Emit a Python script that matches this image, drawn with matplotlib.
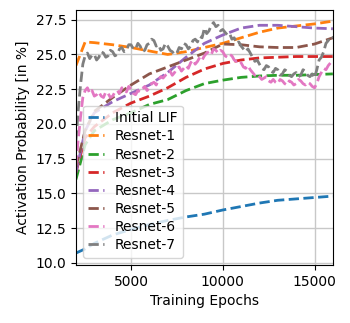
import matplotlib
matplotlib.use("Agg")
import matplotlib.pyplot as plt

# smooth runs, sampled at a few epochs
epochs_s = [2000, 2500, 3000, 4000, 5000, 6000, 7000, 8000, 9000,
            10000, 11000, 12000, 13000, 14000, 15000, 16000]

lif = [10.7, 11.0, 11.4, 12.0, 12.4, 12.75, 13.05, 13.3, 13.5,
       13.8, 14.05, 14.3, 14.5, 14.6, 14.7, 14.8]
resnet1 = [24.2, 25.9, 25.85, 25.7, 25.5, 25.25, 25.0, 25.2, 25.5,
           25.8, 26.2, 26.6, 26.9, 27.05, 27.2, 27.4]
resnet2 = [16.0, 18.5, 19.5, 20.3, 20.8, 21.4, 21.75, 22.4, 22.9,
           23.15, 23.35, 23.45, 23.5, 23.5, 23.55, 23.6]
resnet3 = [16.5, 19.0, 19.8, 20.8, 21.5, 22.0, 22.6, 23.35, 23.95,
           24.35, 24.6, 24.75, 24.8, 24.85, 24.85, 24.85]
resnet4 = [16.5, 19.5, 20.8, 21.6, 22.2, 22.8, 23.7, 24.8, 25.8,
           26.4, 26.9, 27.1, 27.1, 27.0, 26.9, 26.85]
resnet5 = [16.9, 19.5, 20.9, 21.9, 22.8, 23.6, 24.1, 24.6, 25.1,
           25.75, 25.7, 25.55, 25.5, 25.5, 25.75, 26.2]

# noisy runs, every 125 epochs (one row per 1000 epochs)
epochs_n = list(range(2000, 16001, 125))
resnet6 = [17.0, 18.9, 20.5, 21.9, 22.4, 22.6, 22.2, 22.4,
           22.0, 22.1, 22.3, 22.0, 21.9, 22.3, 22.2, 21.9,
           22.0, 22.3, 22.4, 22.2, 22.6, 22.5, 22.3, 22.7,
           22.5, 22.2, 22.1, 22.4, 22.3, 22.5, 22.7, 22.4,
           22.6, 22.9, 23.0, 22.8, 23.2, 23.4, 23.3, 23.5,
           23.6, 23.8, 23.5, 23.7, 24.0, 24.1, 23.8, 24.0,
           24.2, 24.0, 24.4, 24.6, 24.3, 24.5, 24.8, 24.6,
           24.9, 25.1, 25.2, 25.0, 25.4, 25.3, 25.1, 25.3,
           25.2, 24.9, 24.8, 25.0, 24.9, 24.6, 24.5, 24.6,
           24.4, 24.1, 24.0, 24.2, 23.9, 23.7, 23.5, 23.6,
           23.4, 23.2, 23.3, 23.4, 23.1, 23.0, 23.2, 23.0,
           22.9, 23.2, 23.1, 22.9, 22.8, 23.1, 23.0, 22.8,
           22.9, 23.2, 23.1, 22.9, 22.8, 23.0, 22.9, 22.7,
           22.6, 22.9, 23.4, 23.7, 24.0, 23.9, 24.2, 24.4,
           24.4]
resnet7 = [18.8, 21.0, 22.8, 24.3, 24.9, 25.1, 24.7, 24.95,
           25.0, 24.6, 24.8, 25.2, 25.1, 24.8, 24.9, 25.3,
           25.2, 24.9, 25.0, 25.4, 25.5, 25.2, 25.3, 25.7,
           25.7, 25.4, 25.4, 25.8, 25.6, 25.2, 25.3, 25.7,
           25.8, 26.1, 26.0, 25.6, 25.7, 25.3, 25.4, 25.8,
           25.6, 25.3, 25.2, 25.0, 25.1, 25.5, 25.4, 25.8,
           25.7, 25.4, 25.6, 26.0, 26.1, 25.9, 26.3, 26.2,
           26.9, 26.5, 26.7, 27.1, 27.3, 27.0, 27.1, 26.7,
           26.8, 26.6, 26.4, 26.5, 26.1, 26.2, 25.8, 25.9,
           25.6, 25.4, 25.2, 25.4, 25.1, 24.8, 24.5, 24.6,
           24.3, 24.0, 23.9, 24.2, 24.1, 23.8, 23.7, 24.0,
           23.9, 23.5, 23.6, 23.9, 23.8, 23.5, 23.4, 23.6,
           23.7, 23.4, 23.5, 23.9, 23.8, 23.5, 23.4, 23.6,
           23.3, 23.9, 24.6, 24.8, 25.2, 25.8, 26.0, 26.3,
           26.2]

fig = plt.figure(figsize=(3.5, 3.23), dpi=100)
ax = fig.add_axes([0.217, 0.18, 0.734, 0.789])

ax.plot(epochs_s, lif, "--", lw=2, label="Initial LIF")
ax.plot(epochs_s, resnet1, "--", lw=2, label="Resnet-1")
ax.plot(epochs_s, resnet2, "--", lw=2, label="Resnet-2")
ax.plot(epochs_s, resnet3, "--", lw=2, label="Resnet-3")
ax.plot(epochs_s, resnet4, "--", lw=2, label="Resnet-4")
ax.plot(epochs_s, resnet5, "--", lw=2, label="Resnet-5")
ax.plot(epochs_n, resnet6, "--", lw=2, label="Resnet-6")
ax.plot(epochs_n, resnet7, "--", lw=2, label="Resnet-7")

ax.set_xlim(2000, 16000)
ax.set_ylim(9.85, 28.2)
ax.set_xticks([5000, 10000, 15000])
ax.set_yticks([10.0, 12.5, 15.0, 17.5, 20.0, 22.5, 25.0, 27.5])
ax.grid(True, color="#c8c8c8", lw=1)
ax.set_xlabel("Training Epochs")
ax.set_ylabel("Activation Probability [in %]")
ax.legend(loc="lower left", handlelength=1.1, labelspacing=0.3)

plt.savefig("out.png", dpi=100)
